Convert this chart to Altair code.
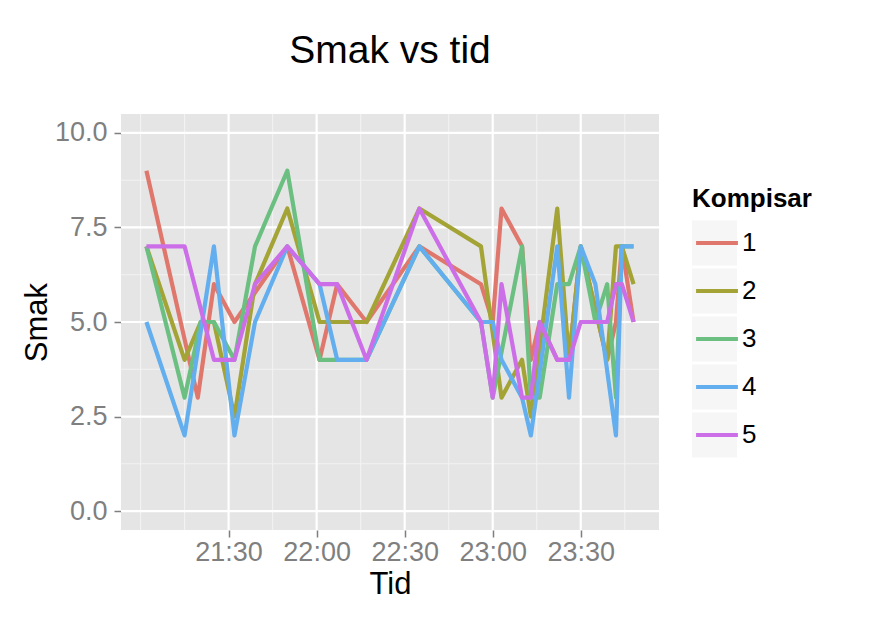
import altair as alt
import pandas as pd

# ---------------- data ----------------
kompisar = ["1", "2", "3", "4", "5"]
colors = ["#E0776D", "#A3A336", "#6BBF80", "#62AEEE", "#CC6EE8"]

t1 = ["21:02", "21:19:30", "21:25", "21:32", "21:50", "22:01", "22:07", "22:17", "22:35", "22:56", "23:00",
      "23:03", "23:10", "23:13", "23:16", "23:22", "23:26", "23:30", "23:39", "23:42", "23:44", "23:48"]
v1 = [9, 3, 6, 5, 7, 4, 6, 5, 7, 6, 5, 8, 7, 4, 5, 4, 4, 7, 4, 5, 7, 5]

t2 = ["21:02", "21:15", "21:20:30", "21:25", "21:32", "21:39", "21:50", "22:01", "22:17", "22:35", "22:56",
      "23:03", "23:10", "23:13", "23:22", "23:26", "23:30", "23:39", "23:42", "23:44", "23:48"]
v2 = [7, 4, 5, 5, 2.5, 6, 8, 5, 5, 8, 7, 3, 4, 2.5, 8, 4, 7, 4, 7, 7, 6]

t3 = ["21:02", "21:15", "21:20:30", "21:25", "21:32", "21:39", "21:50", "22:01", "22:07", "22:17", "22:35",
      "22:56", "23:00", "23:10", "23:13", "23:16", "23:22", "23:26", "23:30", "23:35", "23:39", "23:42",
      "23:44", "23:48"]
v3 = [7, 3, 5, 5, 4, 7, 9, 4, 4, 4, 7, 5, 3, 7, 3, 3, 6, 6, 7, 5, 6, 3, 7, 7]

t4 = ["21:02", "21:15", "21:25", "21:32", "21:39", "21:50", "22:01", "22:07", "22:17", "22:35", "22:56",
      "23:00", "23:03", "23:10", "23:13", "23:22", "23:26", "23:30", "23:35", "23:42", "23:44", "23:48"]
v4 = [5, 2, 7, 2, 5, 7, 6, 4, 4, 7, 5, 5, 4, 3, 2, 7, 3, 7, 6, 2, 7, 7]

t5 = ["21:02", "21:15", "21:25", "21:32", "21:39", "21:50", "22:01", "22:07", "22:17", "22:35", "22:56",
      "23:00", "23:03", "23:10", "23:13", "23:16", "23:22", "23:26", "23:30", "23:39", "23:42", "23:44",
      "23:48"]
v5 = [7, 7, 4, 4, 6, 7, 6, 6, 4, 8, 5, 3, 6, 3, 3, 5, 4, 4, 5, 5, 6, 6, 5]

x_major = ["21:30", "22:00", "22:30", "23:00", "23:30"]
x_minor = ["21:00", "21:15", "21:45", "22:15", "22:45", "23:15", "23:45"]
y_major = [0, 2.5, 5, 7.5, 10]
y_minor = [1.25, 3.75, 6.25, 8.75]

DAY = "2013-01-01T"


def iso(t):
    return DAY + (t if len(t) == 8 else t + ":00")


def dt(t):
    parts = [int(p) for p in t.split(":")] + [0]
    return alt.DateTime(year=2013, month=1, date=1, hours=parts[0], minutes=parts[1], seconds=parts[2])


rows = []
for k, ts, vs in zip(kompisar, [t1, t2, t3, t4, t5], [v1, v2, v3, v4, v5]):
    for t, v in zip(ts, vs):
        rows.append({"Kompisar": k, "Tid": iso(t), "Smak": v})
df = pd.DataFrame(rows)

FONT = "Liberation Sans"
x_scale = alt.Scale(domain=[dt("20:53:20"), dt("23:56:40")])
y_scale = alt.Scale(domain=[-0.5, 10.5], nice=False, zero=False)

x_axis = alt.Axis(values=[dt(t) for t in x_major], format="%H:%M", grid=False, domain=False, orient="bottom",
                  tickColor="#7F7F7F", tickSize=7, tickWidth=1.5, labelPadding=2,
                  labelFontSize=27, labelFont=FONT, labelColor="#7F7F7F", labelFlush=False,
                  labelOverlap=False,
                  title="Tid", titleFontSize=31, titleFont=FONT, titleFontWeight="normal",
                  titleColor="#000000", titleX=269, titleY=39, titleBaseline="top",
                  titleAlign="center")
y_axis = alt.Axis(values=y_major, format=".1f", grid=False, domain=False, orient="left",
                  tickColor="#7F7F7F", tickSize=7, tickWidth=1.5, labelPadding=7,
                  labelFontSize=27, labelFont=FONT, labelColor="#7F7F7F", labelOverlap=False,
                  title="Smak", titleFontSize=31, titleFont=FONT, titleFontWeight="normal",
                  titleColor="#000000", titleX=-68, titleY=208, titleAngle=270,
                  titleBaseline="bottom", titleAlign="center")

legend_common = dict(
    orient="none", legendX=571, legendY=72, direction="vertical", padding=0, offset=0,
    rowPadding=0, clipHeight=48, symbolSize=2025, symbolOffset=0,
    labelFontSize=26, labelFont=FONT, labelOffset=0, labelLimit=200,
    title="Kompisar", titleFontSize=26, titleFont=FONT, titleFontWeight="bold",
    titlePadding=7, titleAnchor="start",
)

# background key squares (legend only, no marks drawn)
bg_domain = [k + " " for k in kompisar]
keys_bg = alt.Chart(df).transform_calculate(Kbg="datum.Kompisar + ' '").transform_filter("false").mark_square(
    filled=True, size=10
).encode(
    x=alt.X("Tid:T", scale=x_scale, axis=x_axis),
    y=alt.Y("Smak:Q", scale=y_scale, axis=y_axis),
    fill=alt.Fill("Kbg:N", scale=alt.Scale(domain=bg_domain, range=["#F2F2F2"] * 5),
                  legend=alt.Legend(symbolType="square", symbolStrokeWidth=0, labelExpr="''",
                                    labelColor="transparent", titleColor="transparent",
                                    **legend_common)),
)

minor_v = alt.Chart(pd.DataFrame({"Tid": [iso(t) for t in x_minor]})).mark_rule(
    color="#F2F2F2", strokeWidth=1.1).encode(x=alt.X("Tid:T", scale=x_scale, axis=x_axis))
minor_h = alt.Chart(pd.DataFrame({"Smak": y_minor})).mark_rule(
    color="#F2F2F2", strokeWidth=1.1).encode(y=alt.Y("Smak:Q", scale=y_scale, axis=y_axis))
major_v = alt.Chart(pd.DataFrame({"Tid": [iso(t) for t in x_major]})).mark_rule(
    color="#FFFFFF", strokeWidth=2.2).encode(x=alt.X("Tid:T", scale=x_scale, axis=x_axis))
major_h = alt.Chart(pd.DataFrame({"Smak": y_major})).mark_rule(
    color="#FFFFFF", strokeWidth=2.2).encode(y=alt.Y("Smak:Q", scale=y_scale, axis=y_axis))

lines = alt.Chart(df).mark_line(strokeWidth=4.2, strokeJoin="round").encode(
    x=alt.X("Tid:T", scale=x_scale, axis=x_axis),
    y=alt.Y("Smak:Q", scale=y_scale, axis=y_axis),
    color=alt.Color("Kompisar:N", scale=alt.Scale(domain=kompisar, range=colors),
                    legend=alt.Legend(symbolType="M-0.93,0H0.93", symbolStrokeWidth=4.2,
                                      labelColor="#000000", titleColor="#000000",
                                      **legend_common)),
)

chart = alt.layer(keys_bg, minor_v, minor_h, major_v, major_h, lines).properties(
    width=538, height=416,
    autosize=alt.AutoSizeParams(type="none"),
    padding={"left": 113, "top": 106, "right": 205, "bottom": 80},
    background="#FFFFFF",
    title=alt.TitleParams("Smak vs tid", fontSize=39, font=FONT, fontWeight="normal", color="#000000",
                          anchor="middle", frame="group", baseline="alphabetic", offset=11),
).configure_view(fill="#E5E5E5", strokeWidth=0)

chart.save("out.html", embed_options={"renderer": "svg", "actions": False})
